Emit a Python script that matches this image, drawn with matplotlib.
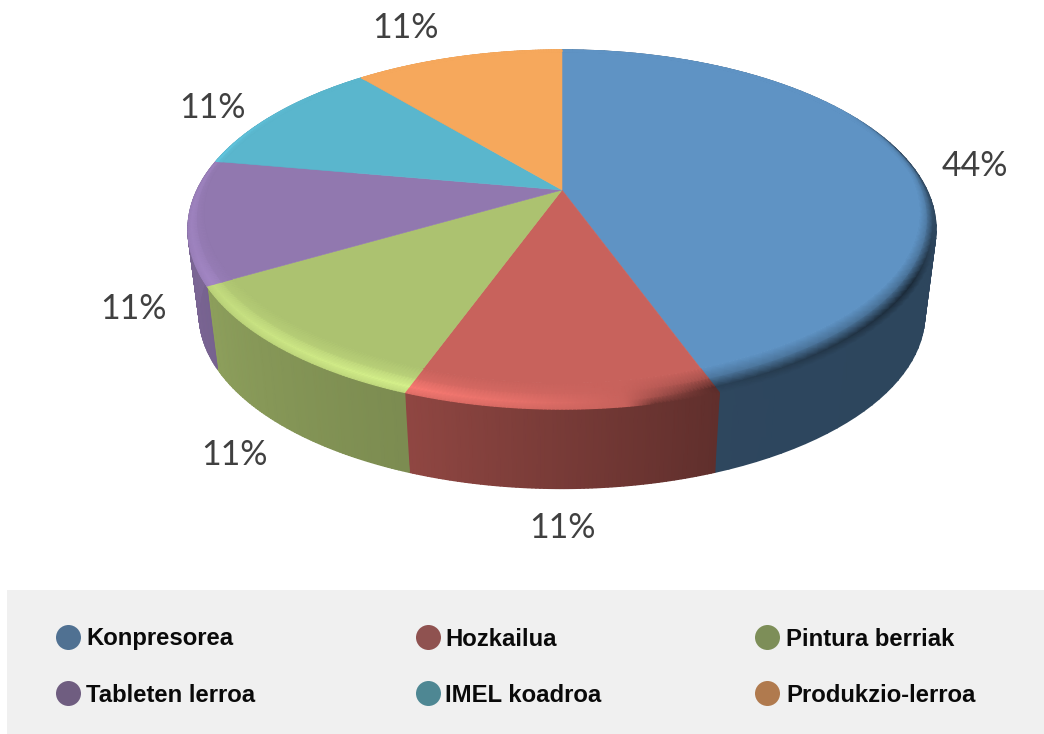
import numpy as np
import matplotlib
matplotlib.use('Agg')
import matplotlib.pyplot as plt
from matplotlib.patches import Polygon, Rectangle

# chart data
categories = ['Konpresorea', 'Hozkailua', 'Pintura berriak',
              'Tableten lerroa', 'IMEL koadroa', 'Produkzio-lerroa']
values = [44, 11, 11, 11, 11, 11]
top_colors = ['#5f93c4', '#c8625c', '#acc270', '#9178af', '#5ab6cd', '#f6a85c']
legend_colors = ['#507192', '#8f5250', '#7d8e58', '#6f5d80', '#4e8793', '#b07a4e']

# where the pie sits on the page (pixels)
cx, cy = 562, 190
a, b, k = 365, 171, 0.22
depth, shrink = 86, 0.97


def project(theta, r=1.0, low=False):
    # theta clockwise from 12 o'clock, tilted disc with some perspective
    x = r * np.sin(theta)
    y = r * np.cos(theta)
    w = 1 + k * y
    s = shrink if low else 1.0
    off = depth if low else 0
    return cx + s * a * x / w, cy + off - s * b * y / w


def rgb(c):
    return np.array(matplotlib.colors.to_rgb(c))


def side_factor(deg):
    return np.interp(deg, [0, 90, 160, 200, 240, 280, 360],
                     [.47, .47, .48, .72, .82, .88, .88])


def rim_amount(deg):
    # >0 lighter, <0 darker
    return np.interp(deg, [0, 60, 90, 120, 160, 172, 185, 200, 225, 250, 285, 310, 360],
                     [0, 0, -.2, -.45, -.35, 0, .25, .42, .32, .18, .15, 0, 0])


fig = plt.figure(figsize=(10.44, 7.34), dpi=100)
ax = fig.add_axes([0, 0, 1, 1])
ax.set_xlim(0, 1044)
ax.set_ylim(734, 0)
ax.axis('off')

edges = np.cumsum([0] + values) / sum(values) * 2 * np.pi

# side wall first, the top face goes over it
for i, col in enumerate(top_colors):
    th = np.linspace(edges[i], edges[i + 1], 80)
    x0, y0 = project(th)
    x1, y1 = project(th, low=True)
    X = np.vstack([x0, x1])
    Y = np.vstack([y0, y1])
    c = np.outer(side_factor(np.degrees(th)), rgb(col))
    ax.pcolormesh(X, Y, np.stack([c, c]), shading='gouraud', zorder=1)

# flat part of the top + bevel along the rim
stops = np.array([0, .25, .6, 1.0])
for i, col in enumerate(top_colors):
    base = rgb(col)
    th = np.linspace(edges[i], edges[i + 1], 80)
    deg = np.degrees(th)
    width = .02 + .075 * np.clip(-np.cos(th) + .1, 0, 1)

    xi, yi = project(th, 1 - width)
    ax.add_patch(Polygon(np.column_stack([np.r_[cx, xi], np.r_[cy, yi]]),
                         closed=True, fc=base, ec=base, lw=.4, zorder=2))

    X, Y, C = [], [], []
    amt = rim_amount(deg)
    for s in stops:
        xs, ys = project(th, 1 - s * width)
        X.append(xs)
        Y.append(ys)
        # how strong the rim effect is at this stop
        f = np.interp(s, [0, .25, .6, 1], [1, 1, .35, 0])
        row = []
        for am, fct in zip(amt, side_factor(deg)):
            if am >= 0:
                c = base * (1 + am * .6 * f)
            else:
                c = base * (1 + am * 1.6 * f)
            if s == 0:
                # outer edge runs into the side colour, no jump where the sign flips
                if am < 0:
                    m = min(1, -am / .1)
                    c = base * (1 + (fct - 1) * m)
                else:
                    c = base * (1 + am * .25)
            row.append(np.clip(c, 0, 1))
        C.append(row)
    ax.pcolormesh(np.array(X), np.array(Y), np.array(C), shading='gouraud', zorder=3)

# percent labels
label_pos = [(975, 166), (562, 528), (234, 455), (133, 309), (212, 108), (405, 28)]
for v, (lx, ly) in zip(values, label_pos):
    ax.text(lx, ly, f'{v}%', fontsize=24.5, family='Lato', color='#404040',
            ha='center', va='center', zorder=5)

# legend band
ax.add_patch(Rectangle((7, 590), 1037, 144, fc='#f0f0f0', ec='none', zorder=0))
dot_x = [68, 428, 767]
text_x = [86, 445, 786]
rows_y = [637, 693]
for i, name in enumerate(categories):
    row, col = i // 3, i % 3
    ax.scatter(dot_x[col], rows_y[row], s=324, color=legend_colors[i], linewidths=0, zorder=4)
    ax.text(text_x[col], rows_y[row] + 2, name, fontsize=17.2, family='Liberation Sans',
            fontweight='bold', color='#0a0a0a', ha='left', va='center', zorder=5)

fig.savefig('out.png', dpi=100)
